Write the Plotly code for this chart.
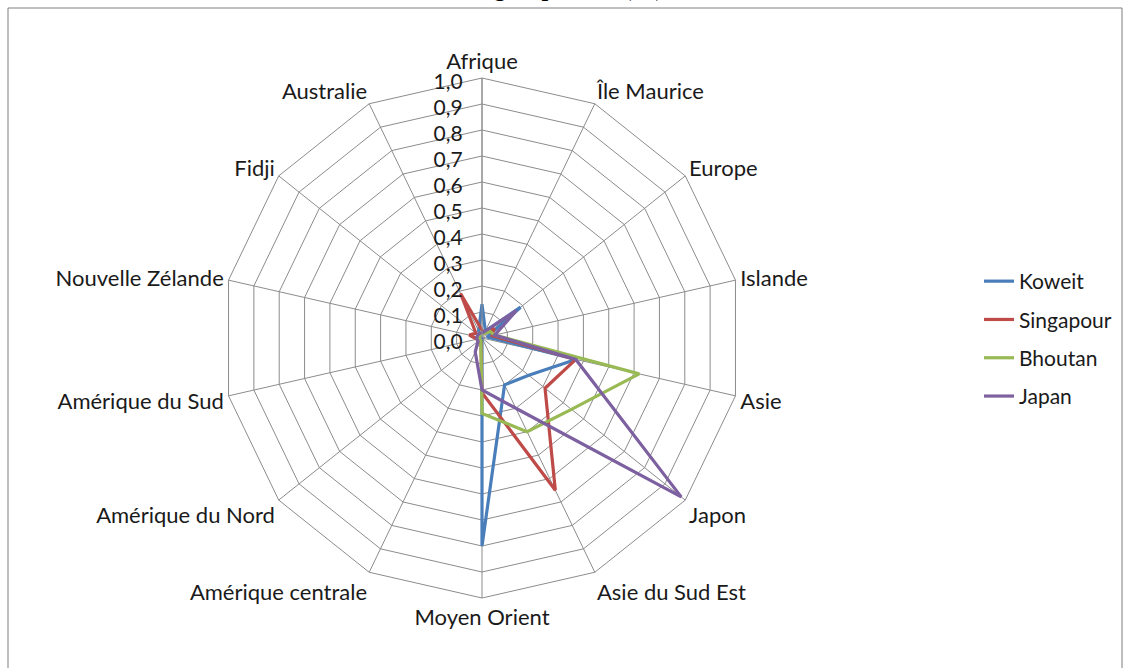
import plotly.graph_objects as go

categories = ["Afrique", "Île Maurice", "Europe", "Islande", "Asie", "Japon",
              "Asie du Sud Est", "Moyen Orient", "Amérique centrale",
              "Amérique du Nord", "Amérique du Sud", "Nouvelle Zélande",
              "Fidji", "Australie"]

koweit    = [0.13, 0.03, 0.19, 0.02, 0.37, 0.23, 0.20, 0.80, 0.00, 0.01, 0.01, 0.02, 0.01, 0.03]
singapour = [0.03, 0.02, 0.06, 0.04, 0.37, 0.31, 0.65, 0.21, 0.01, 0.01, 0.02, 0.05, 0.03, 0.19]
bhoutan   = [0.02, 0.02, 0.04, 0.05, 0.62, 0.44, 0.40, 0.29, 0.01, 0.01, 0.01, 0.02, 0.01, 0.02]
japan     = [0.02, 0.03, 0.17, 0.05, 0.37, 0.98, 0.30, 0.20, 0.06, 0.02, 0.02, 0.02, 0.02, 0.02]

series_names = ["Koweit", "Singapour", "Bhoutan", "Japan"]
series_values = [koweit, singapour, bhoutan, japan]
series_colors = ["#4A7EBB", "#BE4B48", "#98B954", "#7D60A0"]

radial_ticks = [0.0, 0.1, 0.2, 0.3, 0.4, 0.5, 0.6, 0.7, 0.8, 0.9, 1.0]

W, H = 1130, 668
FONT = "Lato, Calibri, Carlito, sans-serif"
GRID = "#8C8C8C"

fig = go.Figure()
for name, vals, col in zip(series_names, series_values, series_colors):
    fig.add_trace(go.Scatterpolar(
        r=vals + vals[:1],
        theta=categories + categories[:1],
        mode="lines",
        name=name,
        legendgroup=name,
        line=dict(color=col, width=3.2),
    ))

cx, cy, R = 482, 338, 260
fig.update_layout(
    width=W, height=H,
    margin=dict(l=0, r=0, t=0, b=0),
    paper_bgcolor="white",
    plot_bgcolor="white",
    separators=", ",
    font=dict(family=FONT, size=22, color="#1a1a1a"),
    polar=dict(
        domain=dict(x=[(cx - R) / W, (cx + R) / W],
                    y=[(H - cy - R) / H, (H - cy + R) / H]),
        gridshape="linear",
        bgcolor="white",
        radialaxis=dict(
            range=[0, 1],
            tickvals=radial_ticks,
            tickformat=".1f",
            angle=90,
            side="counterclockwise",
            showline=True, linecolor=GRID, linewidth=1,
            gridcolor=GRID, gridwidth=1,
            ticks="",
            tickfont=dict(family=FONT, size=21, color="#1a1a1a"),
        ),
        angularaxis=dict(
            categoryorder="array", categoryarray=categories,
            direction="clockwise", rotation=90,
            showline=True, linecolor=GRID, linewidth=1,
            gridcolor=GRID, gridwidth=1,
            ticks="",
            tickfont=dict(family=FONT, size=22, color="#1a1a1a"),
        ),
    ),
    legend=dict(
        x=979 / W, y=1 - 261 / H, xanchor="left", yanchor="top",
        font=dict(family=FONT, size=21, color="#1a1a1a"),
        tracegroupgap=8,
        traceorder="grouped",
        bgcolor="rgba(0,0,0,0)",
    ),
    showlegend=True,
)

# chart frame
fig.add_shape(type="rect", xref="paper", yref="paper",
              x0=8 / W, x1=1122 / W, y0=-0.05, y1=1 - 8 / H,
              line=dict(color="#7F7F7F", width=1), fillcolor="rgba(0,0,0,0)")

# title (mostly cropped at top edge)
fig.add_annotation(text="<b>Regroupement (%)</b>", xref="paper", yref="paper",
                   x=565 / W, y=1 - 3 / H, xanchor="center", yanchor="bottom",
                   showarrow=False,
                   font=dict(family="Liberation Serif, Times New Roman, serif", size=24, color="black"))

fig.write_html("out.html", config={"displayModeBar": False},
               post_script="document.body.style.margin='0';")
